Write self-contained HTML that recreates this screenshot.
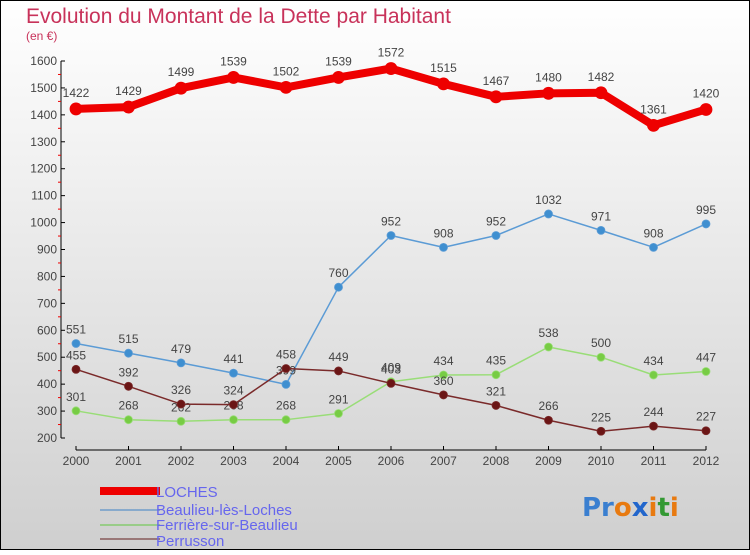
<!DOCTYPE html>
<html><head><meta charset="utf-8"><style>
html,body{margin:0;padding:0}
body{width:750px;height:550px;overflow:hidden;font-family:"Liberation Sans",sans-serif}
</style></head><body>
<svg id="chart" width="750" height="550" xmlns="http://www.w3.org/2000/svg">
<defs><linearGradient id="bg" x1="0" y1="0" x2="0" y2="1"><stop offset="0" stop-color="#ffffff"/><stop offset="1" stop-color="#cfcfcf"/></linearGradient></defs>
<rect x="0.5" y="0.5" width="749" height="549" fill="url(#bg)" stroke="#000"/>
<text x="26" y="23" font-size="21" fill="#c8325a">Evolution du Montant de la Dette par Habitant</text>
<text x="26" y="40" font-size="12" fill="#c8325a">(en €)</text>
<g id="axes"></g>
<g id="series"></g>
<g font-size="15" fill="#6666ee">
<rect x="100" y="487" width="60" height="8" fill="#ee0000"/>
<text x="156" y="497">LOCHES</text>
<line x1="100" y1="510" x2="160" y2="510" stroke="#88aacc" stroke-width="2"/>
<text x="156" y="515">Beaulieu-lès-Loches</text>
<line x1="100" y1="525" x2="160" y2="525" stroke="#99cc88" stroke-width="2"/>
<text x="156" y="530">Ferrière-sur-Beaulieu</text>
<line x1="100" y1="539" x2="160" y2="539" stroke="#997777" stroke-width="2"/>
<text x="156" y="546">Perrusson</text>
</g>
<text x="582" y="516" font-size="26" font-weight="bold" font-family="'DejaVu Sans',sans-serif"><tspan fill="#3a7fd0">Pr</tspan><tspan fill="#e87a10">o</tspan><tspan fill="#2266cc">x</tspan><tspan fill="#e87a10">i</tspan><tspan fill="#339933">t</tspan><tspan fill="#e87a10">i</tspan></text>
</svg>
<script>
const years=["2000","2001","2002","2003","2004","2005","2006","2007","2008","2009","2010","2011","2012"];
const yTicks=[200,300,400,500,600,700,800,900,1000,1100,1200,1300,1400,1500,1600];
const loches=[1422,1429,1499,1539,1502,1539,1572,1515,1467,1480,1482,1361,1420];
const beaulieu=[551,515,479,441,399,760,952,908,952,1032,971,908,995];
const ferriere=[301,268,262,268,268,291,409,434,435,538,500,434,447];
const perrusson=[455,392,326,324,458,449,403,360,321,266,225,244,227];
const NS="http://www.w3.org/2000/svg";
const xS=i=>76+i*52.5;
const yS=v=>438-(v-200)*(377/1400);
function mk(t,a,p){const e=document.createElementNS(NS,t);for(const k in a)e.setAttribute(k,a[k]);p.appendChild(e);return e;}
const ax=document.getElementById('axes');
const yl=mk('line',{x1:61,y1:61,x2:61,y2:438,stroke:'#000'},ax);


const xl=mk('line',{x1:76,y1:450,x2:706,y2:450,stroke:'#000'},ax);


yTicks.forEach((v,i)=>{const y=yS(v);
mk('line',{x1:61,y1:y,x2:65,y2:y,stroke:'#000'},ax);
if(i<yTicks.length-1)mk('line',{x1:58,y1:yS(v+50),x2:61,y2:yS(v+50),stroke:'#e00'},ax);
const t=mk('text',{x:57,y:y+4,'text-anchor':'end','font-size':12,fill:'#444'},ax);t.textContent=v;

});
years.forEach((yr,i)=>{const x=xS(i);
mk('line',{x1:x,y1:446,x2:x,y2:450,stroke:'#000'},ax);
const t=mk('text',{x:x,y:465,'text-anchor':'middle','font-size':12,fill:'#444'},ax);t.textContent=yr;

});
const sg=document.getElementById('series');
function series(name,data,color,dot,w,r){
const g=mk('g',{},sg);


mk('polyline',{points:data.map((v,i)=>xS(i)+','+yS(v)).join(' '),fill:'none',stroke:color,'stroke-width':w,'stroke-linejoin':'round'},g);
data.forEach((v,i)=>{const c=mk('circle',{cx:xS(i),cy:yS(v),r:r,fill:dot,stroke:color,'stroke-width':0.8},g);


const t=mk('text',{x:xS(i),y:yS(v)-(r+6),'text-anchor':'middle','font-size':12,fill:'#444'},g);t.textContent=v;

});}
series('beaulieu',beaulieu,'#5b9bd5','#3f8fd0',1.5,4);
series('ferriere',ferriere,'#99dd77','#77cc44',1.5,4);
series('perrusson',perrusson,'#7a2a2a','#6b1515',1.5,4);
series('loches',loches,'#ee0000','#ee0000',8,6);
</script>
</body></html>
